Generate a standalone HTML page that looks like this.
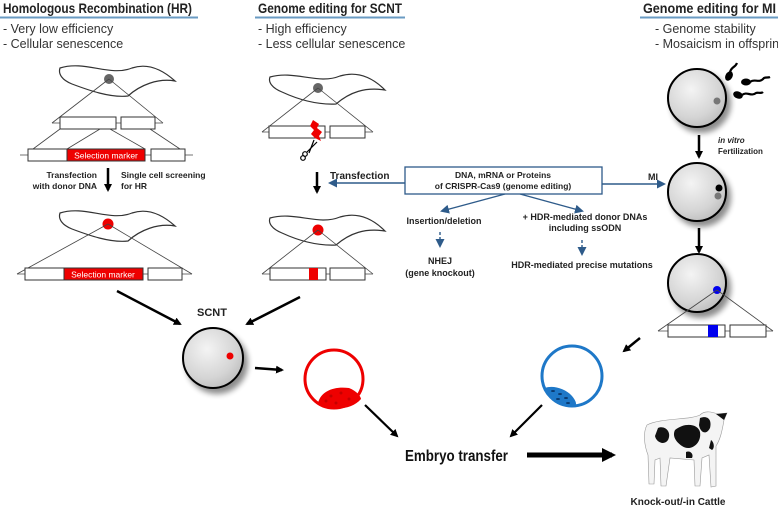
<!DOCTYPE html>
<html><head><meta charset="utf-8"><style>
html,body{margin:0;padding:0;background:#fff;}
svg{display:block;font-family:"Liberation Sans",sans-serif;}
</style></head><body>
<svg width="778" height="509" viewBox="0 0 778 509" xmlns="http://www.w3.org/2000/svg">
<defs>
<radialGradient id="eg" cx="40%" cy="35%" r="70%"><stop offset="0" stop-color="#f4f4f4"/><stop offset="0.7" stop-color="#d4d4d4"/><stop offset="1" stop-color="#bdbdbd"/></radialGradient>
<filter id="sh" x="-30%" y="-30%" width="170%" height="170%"><feGaussianBlur in="SourceAlpha" stdDeviation="3"/><feOffset dx="4" dy="5"/><feComponentTransfer><feFuncA type="linear" slope="0.45"/></feComponentTransfer><feMerge><feMergeNode/><feMergeNode in="SourceGraphic"/></feMerge></filter>
<marker id="ab" markerWidth="8" markerHeight="8" refX="6" refY="4" orient="auto" markerUnits="userSpaceOnUse"><path d="M0,0 L8,4 L0,8 z" fill="#000"/></marker>
<marker id="abl" markerWidth="9" markerHeight="9" refX="7" refY="4.5" orient="auto" markerUnits="userSpaceOnUse"><path d="M0,0 L9,4.5 L0,9 z" fill="#2e5b8a"/></marker>
<marker id="abig" markerWidth="14" markerHeight="14" refX="10" refY="7" orient="auto" markerUnits="userSpaceOnUse"><path d="M0,0 L14,7 L0,14 z" fill="#000"/></marker>
</defs>

<g font-weight="bold" font-size="14" fill="#222">
<text x="3" y="13" textLength="189" lengthAdjust="spacingAndGlyphs">Homologous Recombination (HR)</text>
<text x="258" y="13" textLength="144" lengthAdjust="spacingAndGlyphs">Genome editing for SCNT</text>
<text x="643" y="13" textLength="133" lengthAdjust="spacingAndGlyphs">Genome editing for MI</text>
</g>
<g stroke="#6a9bc3" stroke-width="2"><line x1="0" y1="17.5" x2="198" y2="17.5"/><line x1="255" y1="17.5" x2="405" y2="17.5"/><line x1="640" y1="17.5" x2="778" y2="17.5"/></g>
<g font-size="12.5" fill="#333">
<text x="3" y="33">- Very low efficiency</text><text x="3" y="48">- Cellular senescence</text>
<text x="258" y="33">- High efficiency</text><text x="258" y="48">- Less cellular senescence</text>
<text x="655" y="33">- Genome stability</text><text x="655" y="48">- Mosaicism in offspring</text>
</g>

<!-- HR column -->
<path d="M60,68 C85,60 110,77 132,68 C150,62 165,72 175,81 C158,78 140,85 128,96 C110,98 88,90 72,84 C62,80 58,74 60,68 Z" fill="#fff" stroke="#333" stroke-width="1.2"/>
<circle cx="109" cy="79" r="5" fill="#666"/>
<g stroke="#444" stroke-width="0.8" fill="none">
<line x1="109" y1="79" x2="52" y2="123"/><line x1="109" y1="79" x2="163" y2="123"/>
<line x1="52" y1="123" x2="163" y2="123"/>
<line x1="60" y1="129" x2="33" y2="149"/><line x1="100" y1="129" x2="67" y2="149"/><line x1="110" y1="129" x2="145" y2="149"/><line x1="150" y1="129" x2="180" y2="149"/>
<line x1="20" y1="155" x2="193" y2="155"/>
</g>
<rect x="60" y="117" width="56" height="12" fill="#fff" stroke="#333"/><rect x="121" y="117" width="34" height="12" fill="#fff" stroke="#333"/>
<rect x="28" y="149" width="39" height="12" fill="#fff" stroke="#333"/><rect x="67" y="149" width="78" height="12" fill="#e00" stroke="#333"/><rect x="151" y="149" width="34" height="12" fill="#fff" stroke="#333"/>
<text x="106" y="158.5" font-size="8.5" fill="#fff" text-anchor="middle">Selection marker</text>
<line x1="108" y1="168" x2="108" y2="190" stroke="#000" stroke-width="2.5" marker-end="url(#ab)"/>
<g font-size="8.5" font-weight="bold" fill="#222">
<text x="97" y="178" text-anchor="end">Transfection</text><text x="97" y="189" text-anchor="end">with donor DNA</text>
<text x="121" y="178">Single cell screening</text><text x="121" y="189">for HR</text>
</g>
<path d="M60,213 C85,205 110,222 132,213 C150,207 165,217 175,226 C158,223 140,230 128,241 C110,243 88,235 72,229 C62,225 58,219 60,213 Z" fill="#fff" stroke="#333" stroke-width="1.2"/>
<circle cx="108" cy="224" r="5.5" fill="#e00"/>
<g stroke="#444" stroke-width="0.8"><line x1="108" y1="224" x2="17" y2="274"/><line x1="108" y1="224" x2="192" y2="274"/><line x1="17" y1="274" x2="192" y2="274"/></g>
<rect x="25" y="268" width="39" height="12" fill="#fff" stroke="#333"/><rect x="64" y="268" width="79" height="12" fill="#e00" stroke="#333"/><rect x="148" y="268" width="34" height="12" fill="#fff" stroke="#333"/>
<text x="103" y="277.5" font-size="8.5" fill="#fff" text-anchor="middle">Selection marker</text>

<!-- SCNT column -->
<path d="M270,77 C295,70 318,85 340,76 C360,70 375,80 385,90 C365,87 350,92 336,104 C315,105 295,98 282,92 C272,88 268,82 270,77 Z" fill="#fff" stroke="#333" stroke-width="1.2"/>
<circle cx="318" cy="88" r="5" fill="#666"/>
<g stroke="#444" stroke-width="0.8"><line x1="318" y1="88" x2="262" y2="132"/><line x1="318" y1="88" x2="373" y2="132"/><line x1="262" y1="132" x2="373" y2="132"/></g>
<rect x="269" y="126" width="56" height="12" fill="#fff" stroke="#333"/><rect x="330" y="126" width="35" height="12" fill="#fff" stroke="#333"/>
<path d="M313,120 L319,124 L317,128 L322,132 L319,136 L321,141 L315,138 L311,134 L314,130 L310,126 Z" fill="#e00"/>
<g stroke="#000" stroke-width="1.2" fill="none"><line x1="317" y1="142" x2="307" y2="152"/><line x1="314" y1="140" x2="309" y2="153"/><circle cx="305" cy="154" r="2.3"/><circle cx="303" cy="158" r="2.3"/></g>
<line x1="317" y1="172" x2="317" y2="192" stroke="#000" stroke-width="2.5" marker-end="url(#ab)"/>
<text x="330" y="179" font-size="10" font-weight="bold" fill="#222">Transfection</text>
<path d="M270,218 C295,211 318,226 340,217 C360,211 375,221 385,231 C365,228 350,233 336,245 C315,246 295,239 282,233 C272,229 268,223 270,218 Z" fill="#fff" stroke="#333" stroke-width="1.2"/>
<circle cx="318" cy="230" r="5.5" fill="#e00"/>
<g stroke="#444" stroke-width="0.8"><line x1="318" y1="230" x2="262" y2="274"/><line x1="318" y1="230" x2="373" y2="274"/><line x1="262" y1="274" x2="373" y2="274"/></g>
<rect x="270" y="268" width="56" height="12" fill="#fff" stroke="#333"/><rect x="309" y="268" width="9" height="12" fill="#e00"/><rect x="330" y="268" width="35" height="12" fill="#fff" stroke="#333"/>

<!-- Central box -->
<rect x="405" y="167" width="197" height="27" fill="#fff" stroke="#2e5b8a" stroke-width="1.3"/>
<g font-size="8.5" font-weight="bold" fill="#222" text-anchor="middle">
<text x="503" y="178">DNA, mRNA or Proteins</text><text x="503" y="189">of CRISPR-Cas9 (genome editing)</text>
</g>
<g stroke="#2e5b8a" stroke-width="1.4" fill="none">
<line x1="405" y1="183" x2="330" y2="183" marker-end="url(#abl)"/>
<line x1="602" y1="184" x2="664" y2="184" marker-end="url(#abl)"/>
<line x1="505" y1="194" x2="442" y2="211" marker-end="url(#abl)"/>
<line x1="520" y1="194" x2="582" y2="211" marker-end="url(#abl)"/>
<line x1="440" y1="232" x2="440" y2="246" stroke-dasharray="3,2" marker-end="url(#abl)"/>
<line x1="582" y1="240" x2="582" y2="254" stroke-dasharray="3,2" marker-end="url(#abl)"/>
</g>
<g font-size="9" font-weight="bold" fill="#222" text-anchor="middle">
<text x="444" y="224">Insertion/deletion</text>
<text x="440" y="264">NHEJ</text><text x="440" y="276">(gene knockout)</text>
<text x="585" y="220">+ HDR-mediated donor DNAs</text><text x="585" y="231">including ssODN</text>
<text x="582" y="268">HDR-mediated precise mutations</text>
<text x="648" y="180" text-anchor="start">MI</text>
</g>

<!-- MI column -->
<g filter="url(#sh)">
<circle cx="697" cy="98" r="29" fill="url(#eg)" stroke="#000" stroke-width="2"/>
<circle cx="697" cy="192" r="29" fill="url(#eg)" stroke="#000" stroke-width="2"/>
<circle cx="697" cy="283" r="29" fill="url(#eg)" stroke="#000" stroke-width="2"/>
</g>
<circle cx="717" cy="101" r="3.5" fill="#777"/>
<circle cx="719" cy="188" r="3.5" fill="#000"/><circle cx="718" cy="196" r="3.5" fill="#777"/>
<circle cx="717" cy="290" r="4" fill="#00e"/>
<g fill="#000" stroke="#000">
<ellipse cx="729" cy="76" rx="3" ry="4.5" transform="rotate(30 729 76)"/><path d="M730,72 C732,66 735,68 737,63" fill="none" stroke-width="2.2"/>
<ellipse cx="746" cy="82" rx="4.5" ry="3"/><path d="M750,82 C755,78 759,84 764,78 C766,77 768,78 770,77" fill="none" stroke-width="2.2"/>
<ellipse cx="738" cy="95" rx="4.5" ry="3" transform="rotate(20 738 95)"/><path d="M742,95 C747,91 751,97 756,93 C758,92 761,94 763,92" fill="none" stroke-width="2.2"/>
</g>
<line x1="699" y1="135" x2="699" y2="157" stroke="#000" stroke-width="2.5" marker-end="url(#ab)"/>
<line x1="699" y1="228" x2="699" y2="252" stroke="#000" stroke-width="2.5" marker-end="url(#ab)"/>
<text x="718" y="143" font-size="8" font-weight="bold" font-style="italic" fill="#222">in vitro</text>
<text x="718" y="154" font-size="8" font-weight="bold" fill="#222">Fertilization</text>
<g stroke="#444" stroke-width="0.8"><line x1="717" y1="290" x2="658" y2="331"/><line x1="717" y1="290" x2="773" y2="331"/><line x1="658" y1="331" x2="773" y2="331"/></g>
<rect x="668" y="325" width="57" height="12" fill="#fff" stroke="#333"/><rect x="708" y="325" width="10" height="12" fill="#00e"/><rect x="730" y="325" width="36" height="12" fill="#fff" stroke="#333"/>

<!-- SCNT embryo -->
<line x1="117" y1="291" x2="180" y2="324" stroke="#000" stroke-width="2.5" marker-end="url(#ab)"/>
<line x1="300" y1="297" x2="247" y2="324" stroke="#000" stroke-width="2.5" marker-end="url(#ab)"/>
<text x="212" y="316" font-size="11" font-weight="bold" fill="#222" text-anchor="middle">SCNT</text>
<circle cx="213" cy="358" r="30" fill="url(#eg)" stroke="#000" stroke-width="2" filter="url(#sh)"/>
<circle cx="230" cy="356" r="3.5" fill="#e00"/>
<line x1="255" y1="368" x2="282" y2="370" stroke="#000" stroke-width="2.5" marker-end="url(#ab)"/>

<!-- blastocysts -->
<circle cx="334" cy="379" r="29" fill="#fff" stroke="#e00" stroke-width="3"/>
<path d="M318,403 C321,391 334,386 349,388 C357,391 361,397 361,399 C354,407 344,409 334,408 C327,408 321,406 318,403 Z" fill="#e00"/>
<g fill="#a00" opacity="0.6"><circle cx="331" cy="396" r="1.5"/><circle cx="341" cy="393" r="1.5"/><circle cx="349" cy="399" r="1.5"/><circle cx="336" cy="403" r="1.5"/><circle cx="326" cy="401" r="1.5"/></g>
<circle cx="572" cy="376" r="30" fill="#fff" stroke="#1e78c8" stroke-width="3"/>
<path d="M545,388 C552,385 565,388 572,396 C576,401 577,404 575,406 C565,408 555,404 548,396 C545,392 544,390 545,388 Z" fill="#1e78c8"/>
<g fill="#0a3a70"><ellipse cx="553" cy="391" rx="2" ry="1"/><ellipse cx="560" cy="394" rx="2" ry="1"/><ellipse cx="566" cy="398" rx="2" ry="1"/><ellipse cx="558" cy="399" rx="2" ry="1"/><ellipse cx="568" cy="403" rx="2" ry="1"/></g>
<line x1="640" y1="338" x2="624" y2="351" stroke="#000" stroke-width="2.5" marker-end="url(#ab)"/>
<line x1="365" y1="405" x2="397" y2="436" stroke="#000" stroke-width="2.2" marker-end="url(#ab)"/>
<line x1="542" y1="405" x2="511" y2="436" stroke="#000" stroke-width="2.2" marker-end="url(#ab)"/>

<text x="405" y="461" font-size="16" font-weight="bold" fill="#111" textLength="103" lengthAdjust="spacingAndGlyphs">Embryo transfer</text>
<line x1="527" y1="455" x2="612" y2="455" stroke="#000" stroke-width="5" marker-end="url(#abig)"/>

<!-- cow -->
<g>
<path d="M647,425 C660,418 690,420 700,415 C705,410 712,412 718,414 L727,413 L724,420 C722,432 720,440 716,446 L716,486 L711,487 L709,455 L702,458 L700,486 L695,486 L694,460 L670,458 L666,486 L661,486 L660,458 L655,460 L654,484 L649,484 L648,455 C644,445 643,432 647,425 Z" fill="#f4f4f4" stroke="#999" stroke-width="0.6"/>
<path d="M658,428 C665,425 672,432 668,440 C664,446 656,442 655,436 Z" fill="#111"/>
<path d="M675,430 C685,422 698,424 700,432 C702,444 690,452 682,446 C676,442 672,436 675,430 Z" fill="#111"/>
<path d="M700,418 C708,415 712,420 710,428 C706,436 700,432 699,425 Z" fill="#111"/>
<path d="M716,414 L727,413 L724,420 Z" fill="#111"/>
<path d="M686,452 C690,450 694,454 692,458 L686,458 Z" fill="#111"/>
<path d="M711,440 C714,442 715,448 712,450 L709,448 Z" fill="#111"/>
</g>
<text x="678" y="505" font-size="10" font-weight="bold" fill="#222" text-anchor="middle">Knock-out/-in Cattle</text>
</svg>
</body></html>
